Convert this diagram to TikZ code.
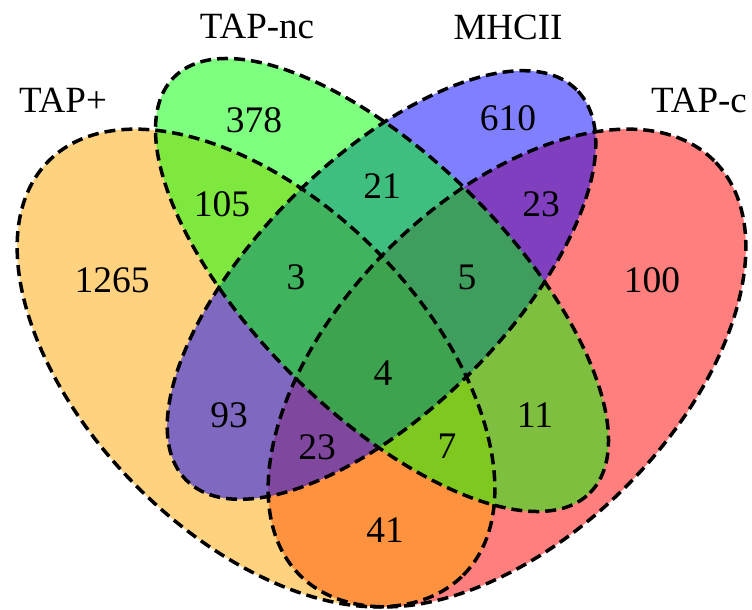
\documentclass[tikz,border=0pt]{standalone}
\usepackage{fontspec}
\setmainfont{Liberation Serif}
\definecolor{setorange}{RGB}{255,165,0}
\definecolor{setgreen}{RGB}{0,255,0}
\definecolor{setblue}{RGB}{0,0,255}
\definecolor{setred}{RGB}{255,0,0}
\tikzset{
  setfill/.style={fill=#1, fill opacity=0.5, draw=none},
  setline/.style={draw=black, line width=3.5pt, dash pattern=on 11pt off 6pt},
  count/.style={inner sep=0pt, font=\fontsize{37.5}{40}\selectfont},
  setname/.style={inner sep=0pt, font=\fontsize{37}{40}\selectfont},
}
\begin{document}
\begin{tikzpicture}[x=1pt, y=-1pt]
  \path[use as bounding box] (0,0) rectangle (752,610);
  % ellipse centres
  \coordinate (cP) at (256,368);
  \coordinate (cN) at (382,285);
  \coordinate (cM) at (381.5,285);
  \coordinate (cC) at (507,368);
  % translucent fills, drawn in stacking order
  \path[setfill=setred, rotate around={45:(cC)}] (cC) ellipse [x radius=293pt, y radius=168pt];
  \path[setfill=setorange, rotate around={-45:(cP)}] (cP) ellipse [x radius=293pt, y radius=168pt];
  \path[setfill=setblue, rotate around={45:(cM)}] (cM) ellipse [x radius=276pt, y radius=125pt];
  \path[setfill=setgreen, rotate around={-45:(cN)}] (cN) ellipse [x radius=294pt, y radius=127pt];
  % dashed outlines
  \path[setline, rotate around={45:(cC)}] (cC) ellipse [x radius=293pt, y radius=168pt];
  \path[setline, rotate around={-45:(cP)}] (cP) ellipse [x radius=293pt, y radius=168pt];
  \path[setline, rotate around={45:(cM)}] (cM) ellipse [x radius=276pt, y radius=125pt];
  \path[setline, rotate around={-45:(cN)}] (cN) ellipse [x radius=294pt, y radius=127pt];
  % set names
  \node[setname] (lP) at (63,100) {TAP+};
  \node[setname] (lN) at (257,26) {TAP-nc};
  \node[setname] (lM) at (508,27) {MHCII};
  \node[setname] (lC) at (699,100) {TAP-c};
  % region counts
  \node[count] (n1265) at (112,280) {1265};
  \node[count] (n378) at (254,120) {378};
  \node[count] (n610) at (508,118) {610};
  \node[count] (n100) at (652,280) {100};
  \node[count] (n105) at (222,204) {105};
  \node[count] (n21) at (382,186) {21};
  \node[count] (n23a) at (541,204) {23};
  \node[count] (n3) at (296,277) {3};
  \node[count] (n5) at (467,277) {5};
  \node[count] (n4) at (383,373) {4};
  \node[count] (n93) at (229,415) {93};
  \node[count] (n11) at (535,415) {11};
  \node[count] (n23b) at (317,447) {23};
  \node[count] (n7) at (447,446) {7};
  \node[count] (n41) at (385,530) {41};
\end{tikzpicture}
\end{document}
